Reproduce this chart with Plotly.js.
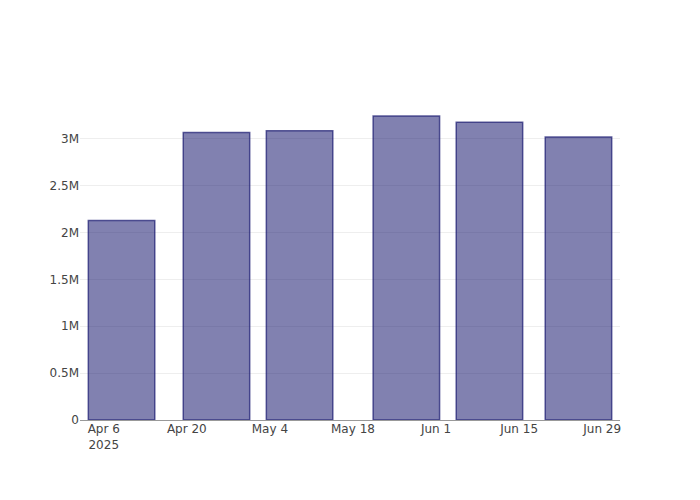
<!DOCTYPE html>
<html>
<head>
<meta charset="utf-8">
<script src="https://cdn.plot.ly/plotly-3.0.1.min.js"></script>
<style>html,body{margin:0;padding:0;background:#fff;}#chart{width:700px;height:500px;}</style>
</head>
<body>
<div id="chart"></div>
<script>
const dates = ["2025-04-09", "2025-04-25", "2025-05-09", "2025-05-27", "2025-06-10", "2025-06-25"];
const values = [2128000, 3064000, 3085000, 3241000, 3174000, 3017000];

const trace = {
  type: 'bar',
  x: dates,
  y: values,
  marker: {
    color: 'rgba(25,25,112,0.55)',
    line: {color: 'rgba(25,25,112,0.7)', width: 1.5}
  },
  hoverinfo: 'x+y'
};

const layout = {
  width: 700,
  height: 500,
  margin: {l: 80, r: 80, t: 100, b: 80},
  font: {family: 'DejaVu Sans, sans-serif', size: 12, color: '#444'},
  paper_bgcolor: '#fff',
  plot_bgcolor: '#fff',
  showlegend: false,
  xaxis: {
    type: 'date',
    showgrid: false,
    showline: false,
    zeroline: false,
    ticks: '',
    dtick: 14 * 24 * 3600 * 1000,
    tick0: '2025-04-06'
  },
  yaxis: {
    showgrid: true,
    gridcolor: '#eee',
    zeroline: true,
    zerolinecolor: '#999',
    zerolinewidth: 1,
    ticks: ''
  }
};

Plotly.newPlot('chart', [trace], layout, {displayModeBar: false});
</script>
</body>
</html>
